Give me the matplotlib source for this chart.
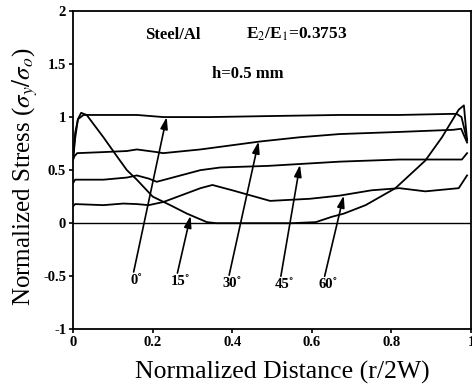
import matplotlib
matplotlib.use("Agg")
import matplotlib.pyplot as plt

plt.rcParams['font.family'] = ['Liberation Serif', 'DejaVu Serif']
plt.rcParams['mathtext.fontset'] = 'stix'

# curves (x = r/2W, y = sigma_y/sigma_o)
x_0 = [0.0, 0.005, 0.012, 0.026, 0.076, 0.16, 0.227, 0.344, 0.5, 0.67, 0.82, 0.95, 0.964, 0.976, 0.99]
y_0 = [0.62, 0.85, 0.98, 1.02, 1.02, 1.02, 1.0, 1.0, 1.01, 1.02, 1.02, 1.03, 1.03, 1.0, 0.78]

x_15 = [0.0, 0.005, 0.012, 0.02, 0.034, 0.076, 0.11, 0.135, 0.16, 0.20, 0.244, 0.286, 0.336, 0.36,
        0.45, 0.55, 0.61, 0.65, 0.68, 0.735, 0.81, 0.885, 0.927, 0.969, 0.982, 0.99]
y_15 = [0.6, 0.8, 0.98, 1.04, 1.02, 0.81, 0.63, 0.50, 0.41, 0.25, 0.17, 0.09, 0.01, 0.0,
        0.0, 0.0, 0.01, 0.06, 0.09, 0.17, 0.33, 0.59, 0.81, 1.07, 1.11, 0.78]

x_30 = [0.0, 0.003, 0.01, 0.076, 0.135, 0.16, 0.21, 0.226, 0.32, 0.47, 0.57, 0.67, 0.82, 0.955, 0.975, 0.99]
y_30 = [0.6, 0.63, 0.66, 0.67, 0.68, 0.695, 0.67, 0.66, 0.695, 0.77, 0.81, 0.84, 0.86, 0.88, 0.89, 0.76]

x_45 = [0.0, 0.005, 0.076, 0.135, 0.16, 0.19, 0.21, 0.32, 0.37, 0.49, 0.67, 0.82, 0.977, 0.99]
y_45 = [0.38, 0.41, 0.41, 0.43, 0.45, 0.42, 0.39, 0.50, 0.525, 0.54, 0.58, 0.60, 0.60, 0.66]

x_60 = [0.0, 0.005, 0.076, 0.126, 0.16, 0.19, 0.227, 0.32, 0.35, 0.40, 0.495, 0.595, 0.67, 0.75,
        0.82, 0.885, 0.969, 0.99]
y_60 = [0.16, 0.18, 0.17, 0.185, 0.18, 0.17, 0.20, 0.33, 0.36, 0.31, 0.21, 0.23, 0.26, 0.31,
        0.33, 0.30, 0.33, 0.45]

# angle labels, where the label sits and where its arrow points
angle_labels = ["0˚", "15˚", "30˚", "45˚", "60˚"]
label_pos = [(0.16, -0.54), (0.27, -0.55), (0.40, -0.57), (0.53, -0.58), (0.64, -0.58)]
arrow_tip = [(0.235, 1.0), (0.295, 0.07), (0.466, 0.77), (0.57, 0.55), (0.68, 0.26)]

xticks = [0, 0.2, 0.4, 0.6, 0.8, 1]
xtick_labels = ["0", "0.2", "0.4", "0.6", "0.8", "1"]
yticks = [-1, -0.5, 0, 0.5, 1, 1.5, 2]
ytick_labels = ["-1", "-0.5", "0", "0.5", "1", "1.5", "2"]

fig = plt.figure(figsize=(4.72, 3.92), dpi=100)
ax = fig.add_axes([0.155, 0.16, 0.843, 0.812])

for xs, ys in [(x_0, y_0), (x_15, y_15), (x_30, y_30), (x_45, y_45), (x_60, y_60)]:
    ax.plot(xs, ys, color='k', lw=1.3)

ax.axhline(0, color='k', lw=1.0)

for lab, (lx, ly), (tx, ty) in zip(angle_labels, label_pos, arrow_tip):
    ax.text(lx, ly, lab, ha='center', va='center', fontsize=10.5, fontweight='bold')
    ax.annotate('', xy=(tx, ty), xytext=(lx - 0.008, ly + 0.08),
                arrowprops=dict(arrowstyle='-|>,head_length=0.7,head_width=0.22', color='k',
                                lw=1.2, mutation_scale=10, shrinkA=0, shrinkB=0))

ax.text(0.18, 1.77, "Steel/Al", fontsize=12, fontweight='bold', va='center')
ax.text(0.435, 1.78, r"E$_2$/E$_1$=0.3753", fontsize=12.5, fontweight='bold', va='center')
ax.text(0.35, 1.41, "h=0.5 mm", fontsize=12, fontweight='bold', va='center')

ax.set_xlim(0, 1)
ax.set_ylim(-1, 2)
ax.set_xticks(xticks)
ax.set_xticklabels(xtick_labels, fontweight='bold')
ax.set_yticks(yticks)
ax.set_yticklabels(ytick_labels, fontweight='bold')
ax.tick_params(labelsize=10.5, length=3, width=1.2, direction='out', pad=2)
for s in ax.spines.values():
    s.set_linewidth(1.3)

ax.set_xlabel("Normalized Distance (r/2W)", fontsize=18.5, va='center')
ax.xaxis.set_label_coords(0.525, -0.135)
ax.set_ylabel(r"Normalized Stress ($\sigma_y/\sigma_o$)", fontsize=18, va='center')
ax.yaxis.set_label_coords(-0.12, 0.48)

fig.savefig("out.png", dpi=100)
